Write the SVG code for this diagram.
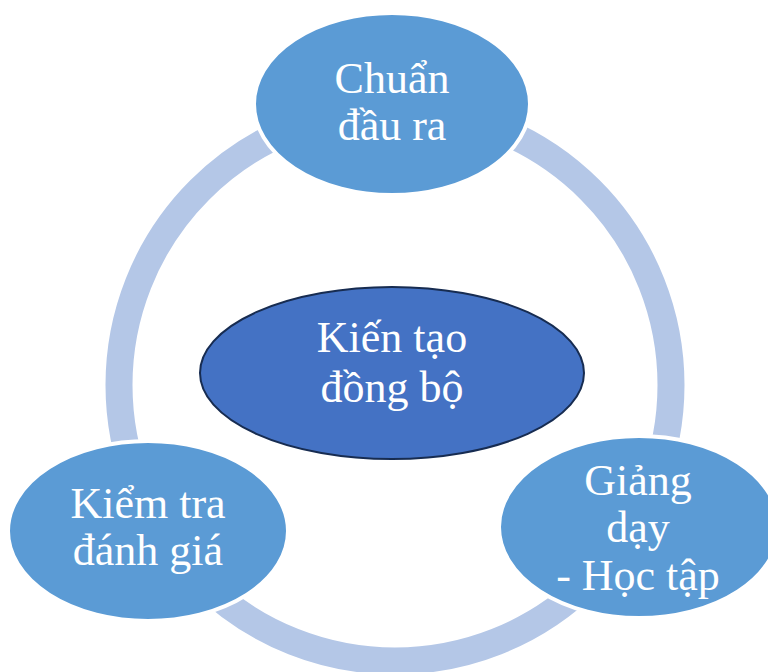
<svg xmlns="http://www.w3.org/2000/svg" width="768" height="672" viewBox="0 0 768 672">
<style>
.outer{fill:#5B9BD5;stroke:#FFFFFF;stroke-width:4}
.center{fill:#4472C4;stroke:#172C51;stroke-width:2}
.t{font-family:"Liberation Serif","Times New Roman",serif;font-size:44px;fill:#FFFFFF;text-anchor:middle}
</style>
<rect width="768" height="672" fill="#FFFFFF"/>
<g id="connectors">
<circle cx="395" cy="385" r="276" fill="none" stroke="#B4C7E7" stroke-width="27"/>
</g>
<g id="node-chuan">
<ellipse class="outer" cx="392" cy="104" rx="138" ry="91"/>
<text class="t" x="392" y="93">Chuẩn</text>
<text class="t" x="392" y="140">đầu ra</text>
</g>
<g id="node-center">
<ellipse class="center" cx="392" cy="373" rx="192" ry="86"/>
<text class="t" x="392" y="352">Kiến tạo</text>
<text class="t" x="392" y="402">đồng bộ</text>
</g>
<g id="node-kiemtra">
<ellipse class="outer" cx="148" cy="531" rx="140" ry="90"/>
<text class="t" x="148" y="518">Kiểm tra</text>
<text class="t" x="148" y="565">đánh giá</text>
</g>
<g id="node-giangday">
<ellipse class="outer" cx="639" cy="527" rx="140" ry="91"/>
<text class="t" x="638" y="495">Giảng</text>
<text class="t" x="638" y="542">dạy</text>
<text class="t" x="638" y="590">- Học tập</text>
</g>
</svg>
